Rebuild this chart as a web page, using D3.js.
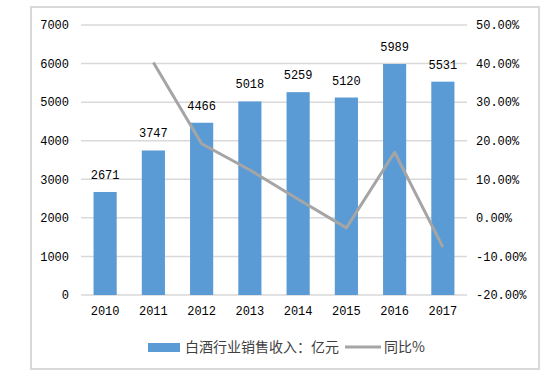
<!DOCTYPE html>
<html>
<head>
<meta charset="utf-8">
<script src="https://cdn.jsdelivr.net/npm/d3@7"></script>
<style>
  body { margin: 0; background: #fff; }
  svg { display: block; }
</style>
</head>
<body>
<div id="chart"></div>
<script>
var years = ["2010", "2011", "2012", "2013", "2014", "2015", "2016", "2017"];
var revenue = [2671, 3747, 4466, 5018, 5259, 5120, 5989, 5531];
// growth in %, first year has no value
var growth = [null, 40.3, 19.2, 12.4, 4.8, -2.6, 17.0, -7.6];
var leftTicks = [0, 1000, 2000, 3000, 4000, 5000, 6000, 7000];
var rightTicks = [-20, -10, 0, 10, 20, 30, 40, 50];
var barName = "白酒行业销售收入：亿元";
var lineName = "同比%";

var W = 557, H = 377;
var svg = d3.select("#chart").append("svg")
  .attr("width", W)
  .attr("height", H);

var numFont = "'Liberation Mono', monospace";
var cjkFont = "'Noto Sans CJK SC', sans-serif";

// outer frame
svg.append("rect")
  .attr("x", 31).attr("y", 7)
  .attr("width", 508).attr("height", 362)
  .attr("fill", "#fff")
  .attr("stroke", "#d9d9d9")
  .attr("stroke-width", 2);

var x = d3.scaleBand()
  .domain(years)
  .range([81, 467])
  .paddingInner(0.52)
  .paddingOuter(0.26);

var yL = d3.scaleLinear().domain([0, 7000]).range([295, 25]);
var yR = d3.scaleLinear().domain([-20, 50]).range([295, 25]);

// gridlines
svg.append("g")
  .selectAll("line")
  .data(leftTicks)
  .enter().append("line")
  .attr("x1", 81).attr("x2", 467)
  .attr("y1", d => yL(d)).attr("y2", d => yL(d))
  .attr("stroke", "#d9d9d9")
  .attr("stroke-width", 1.5);

// left axis
var axL = svg.append("g")
  .attr("transform", "translate(81,0)")
  .call(d3.axisLeft(yL).tickValues(leftTicks).tickSize(0).tickPadding(12)
    .tickFormat(d3.format("d")));
axL.select(".domain").remove();
axL.selectAll("text")
  .attr("font-family", numFont)
  .attr("font-size", "12px")
  .attr("fill", "#000");

// right axis
var axR = svg.append("g")
  .attr("transform", "translate(467,0)")
  .call(d3.axisRight(yR).tickValues(rightTicks).tickSize(0).tickPadding(9)
    .tickFormat(d => d.toFixed(2) + "%"));
axR.select(".domain").remove();
axR.selectAll("text")
  .attr("font-family", numFont)
  .attr("font-size", "12px")
  .attr("fill", "#000");

// bottom axis
var axB = svg.append("g")
  .attr("transform", "translate(0,295)")
  .call(d3.axisBottom(x).tickSize(0).tickPadding(11));
axB.select(".domain").remove();
axB.selectAll("text")
  .attr("font-family", numFont)
  .attr("font-size", "12px")
  .attr("fill", "#000");

// bars
svg.append("g")
  .selectAll("rect")
  .data(revenue)
  .enter().append("rect")
  .attr("x", (d, i) => x(years[i]))
  .attr("y", d => yL(d))
  .attr("width", x.bandwidth())
  .attr("height", d => yL(0) - yL(d))
  .attr("fill", "#5b9bd5");

// bar labels
svg.append("g")
  .selectAll("text")
  .data(revenue)
  .enter().append("text")
  .attr("x", (d, i) => x(years[i]) + x.bandwidth() / 2)
  .attr("y", d => yL(d) - 13)
  .attr("text-anchor", "middle")
  .attr("font-family", numFont)
  .attr("font-size", "12px")
  .attr("fill", "#000")
  .text(d => d);

// growth line
var line = d3.line()
  .defined(d => d != null)
  .x((d, i) => x(years[i]) + x.bandwidth() / 2)
  .y(d => yR(d));

svg.append("path")
  .datum(growth)
  .attr("d", line)
  .attr("fill", "none")
  .attr("stroke", "#a5a5a5")
  .attr("stroke-width", 3)
  .attr("stroke-linejoin", "round");

// legend
var lg = svg.append("g");
lg.append("rect")
  .attr("x", 148).attr("y", 343)
  .attr("width", 32).attr("height", 9)
  .attr("fill", "#5b9bd5");
lg.append("text")
  .attr("x", 185).attr("y", 352)
  .attr("font-family", cjkFont)
  .attr("font-size", "14px")
  .attr("fill", "#404040")
  .text(barName);
lg.append("line")
  .attr("x1", 345).attr("x2", 381)
  .attr("y1", 347).attr("y2", 347)
  .attr("stroke", "#a5a5a5")
  .attr("stroke-width", 3);
lg.append("text")
  .attr("x", 384).attr("y", 352)
  .attr("font-family", cjkFont)
  .attr("font-size", "14px")
  .attr("fill", "#404040")
  .text(lineName);
</script>
</body>
</html>
